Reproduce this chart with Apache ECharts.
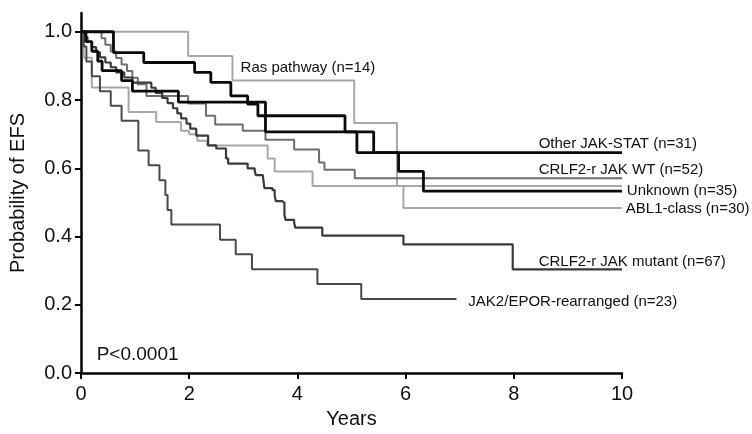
<!DOCTYPE html>
<html>
<head>
<meta charset="utf-8">
<script src="https://cdn.jsdelivr.net/npm/echarts@6/dist/echarts.min.js"></script>
<style>
  html, body { margin: 0; padding: 0; background: #fff; }
  #chart { width: 752px; height: 434px; }
</style>
</head>
<body>
<div id="chart"></div>
<script>
// survival steps: time (years) and probability after each step
var rasT = [0, 1.98, 2.8, 5.05, 5.84, 10];
var rasS = [1.0, 0.929, 0.857, 0.733, 0.548, 0.548];

var otherT = [0, 0.6, 1.16, 2.1, 2.4, 2.77, 3.08, 3.27, 4.88, 5.1, 10];
var otherS = [1.0, 0.939, 0.91, 0.881, 0.852, 0.812, 0.788, 0.754, 0.707, 0.646, 0.646];

var wtT = [0, 0.38, 0.45, 0.55, 0.65, 0.75, 0.85, 0.95, 1.05, 1.21, 1.98, 2.31, 2.48, 2.99, 3.41, 3.94, 4.4, 4.5, 5.06, 10];
var wtS = [1.0, 0.981, 0.962, 0.942, 0.923, 0.904, 0.885, 0.865, 0.846, 0.812, 0.79, 0.754, 0.728, 0.71, 0.684, 0.655, 0.617, 0.596, 0.571, 0.571];

var unkT = [0, 0.09, 0.2, 0.31, 0.39, 0.75, 0.95, 1.8, 3.41, 5.41, 5.87, 6.33, 10];
var unkS = [1.0, 0.971, 0.943, 0.914, 0.886, 0.857, 0.826, 0.794, 0.707, 0.646, 0.591, 0.533, 0.533];

var ablT = [0, 0.05, 0.2, 0.88, 1.39, 1.85, 2.0, 2.15, 2.33, 3.45, 3.58, 4.28, 5.96, 10];
var ablS = [1.0, 0.924, 0.837, 0.765, 0.736, 0.71, 0.7, 0.681, 0.667, 0.629, 0.591, 0.548, 0.484, 0.484];

var mutT = [0, 0.08, 0.12, 0.2, 0.28, 0.35, 0.45, 0.55, 0.65, 0.8, 0.95, 1.3, 1.38, 1.5, 1.6, 1.7, 1.78, 1.85, 1.95, 2.02,
            2.13, 2.35, 2.5, 2.68, 2.72, 3.08, 3.21, 3.23, 3.36, 3.39, 3.54, 3.58, 3.6, 3.72, 3.76, 3.78, 3.94, 3.96, 4.46, 5.96, 7.98, 10];
var mutS = [1.0, 0.985, 0.97, 0.955, 0.94, 0.925, 0.91, 0.896, 0.881, 0.866, 0.851, 0.836, 0.821, 0.806, 0.791, 0.776, 0.761, 0.746, 0.731, 0.716,
            0.696, 0.667, 0.658, 0.629, 0.614, 0.6, 0.594, 0.58, 0.577, 0.542, 0.536, 0.522, 0.504, 0.499, 0.464, 0.449, 0.441, 0.426, 0.403, 0.377, 0.304, 0.304];

var jak2T = [0, 0.05, 0.1, 0.2, 0.35, 0.55, 0.75, 1.06, 1.25, 1.45, 1.56, 1.6, 1.67, 2.57, 2.86, 3.16, 4.37, 5.18, 6.94];
var jak2S = [1.0, 0.957, 0.913, 0.87, 0.826, 0.783, 0.739, 0.652, 0.609, 0.565, 0.522, 0.478, 0.435, 0.391, 0.348, 0.304, 0.261, 0.217, 0.217];

var xTicks = [0, 2, 4, 6, 8, 10];
var yTicks = [0, 0.2, 0.4, 0.6, 0.8, 1.0];

// [text, years, probability] where each label sits (left edge, vertical middle)
var curveLabels = [
  ['Ras pathway (n=14)', 2.95, 0.893],
  ['Other JAK-STAT (n=31)', 8.46, 0.672],
  ['CRLF2-r JAK WT (n=52)', 8.46, 0.594],
  ['Unknown (n=35)', 10.09, 0.533],
  ['ABL1-class (n=30)', 10.07, 0.481],
  ['CRLF2-r JAK mutant (n=67)', 8.46, 0.325],
  ['JAK2/EPOR-rearranged (n=23)', 7.16, 0.209]
];
var pLabel = ['P<0.0001', 0.29, 0.055];

var font = 'Liberation Sans, Arial, Helvetica, sans-serif';

function pairs(t, s) {
  return t.map(function(v, i) { return [v, s[i]]; });
}

function km(name, t, s, color, width, z) {
  return {
    name: name,
    type: 'line',
    step: 'end',
    symbol: 'none',
    z: z,
    silent: true,
    lineStyle: { color: color, width: width },
    data: pairs(t, s)
  };
}

var chart = echarts.init(document.getElementById('chart'), null, { renderer: 'canvas' });

var option = {
  animation: false,
  backgroundColor: '#fff',
  grid: { left: 77, right: 130, top: 13, bottom: 57 },
  xAxis: {
    type: 'value',
    min: 0,
    max: 10,
    interval: 2,
    name: 'Years',
    nameLocation: 'middle',
    nameGap: 31,
    nameTextStyle: { fontFamily: font, fontSize: 20, color: '#111' },
    axisLine: { lineStyle: { color: '#000', width: 2.5 } },
    axisTick: { length: 6, lineStyle: { color: '#000', width: 2 } },
    axisLabel: { margin: 11, fontFamily: font, fontSize: 20, color: '#111',
      customValues: xTicks },
    splitLine: { show: false }
  },
  yAxis: {
    type: 'value',
    min: 0,
    max: 1.055,
    name: 'Probability of EFS',
    nameLocation: 'middle',
    nameGap: 53,
    nameTextStyle: { fontFamily: font, fontSize: 20, color: '#111' },
    axisLine: { show: true, lineStyle: { color: '#000', width: 2.5 } },
    axisTick: { show: true, length: 6, lineStyle: { color: '#000', width: 2 },
      customValues: yTicks },
    axisLabel: { margin: 9, fontFamily: font, fontSize: 20, color: '#111',
      customValues: yTicks,
      formatter: function(v) { return v.toFixed(1); } },
    splitLine: { show: false }
  },
  series: [
    km('Ras pathway', rasT, rasS, '#a8a8a8', 2, 2),
    km('ABL1-class', ablT, ablS, '#a8a8a8', 2, 2),
    km('CRLF2-r JAK WT', wtT, wtS, '#6e6e6e', 2, 3),
    km('JAK2/EPOR-rearranged', jak2T, jak2S, '#4a4a4a', 2, 3),
    km('CRLF2-r JAK mutant', mutT, mutS, '#3a3a3a', 2.2, 4),
    km('Unknown', unkT, unkS, '#0a0a0a', 2.8, 5),
    km('Other JAK-STAT', otherT, otherS, '#0a0a0a', 2.8, 5)
  ]
};

chart.setOption(option);

// place curve labels at their data positions
var texts = curveLabels.map(function(l) {
  var p = chart.convertToPixel({ gridIndex: 0 }, [l[1], l[2]]);
  return {
    type: 'text',
    x: p[0], y: p[1],
    style: { text: l[0], fontFamily: font, fontSize: 15, fill: '#111',
      textAlign: 'left', textVerticalAlign: 'middle' }
  };
});
var pp = chart.convertToPixel({ gridIndex: 0 }, [pLabel[1], pLabel[2]]);
texts.push({
  type: 'text',
  x: pp[0], y: pp[1],
  style: { text: pLabel[0], fontFamily: font, fontSize: 19, fill: '#111',
    textAlign: 'left', textVerticalAlign: 'middle' }
});
chart.setOption({ graphic: texts });
</script>
</body>
</html>
